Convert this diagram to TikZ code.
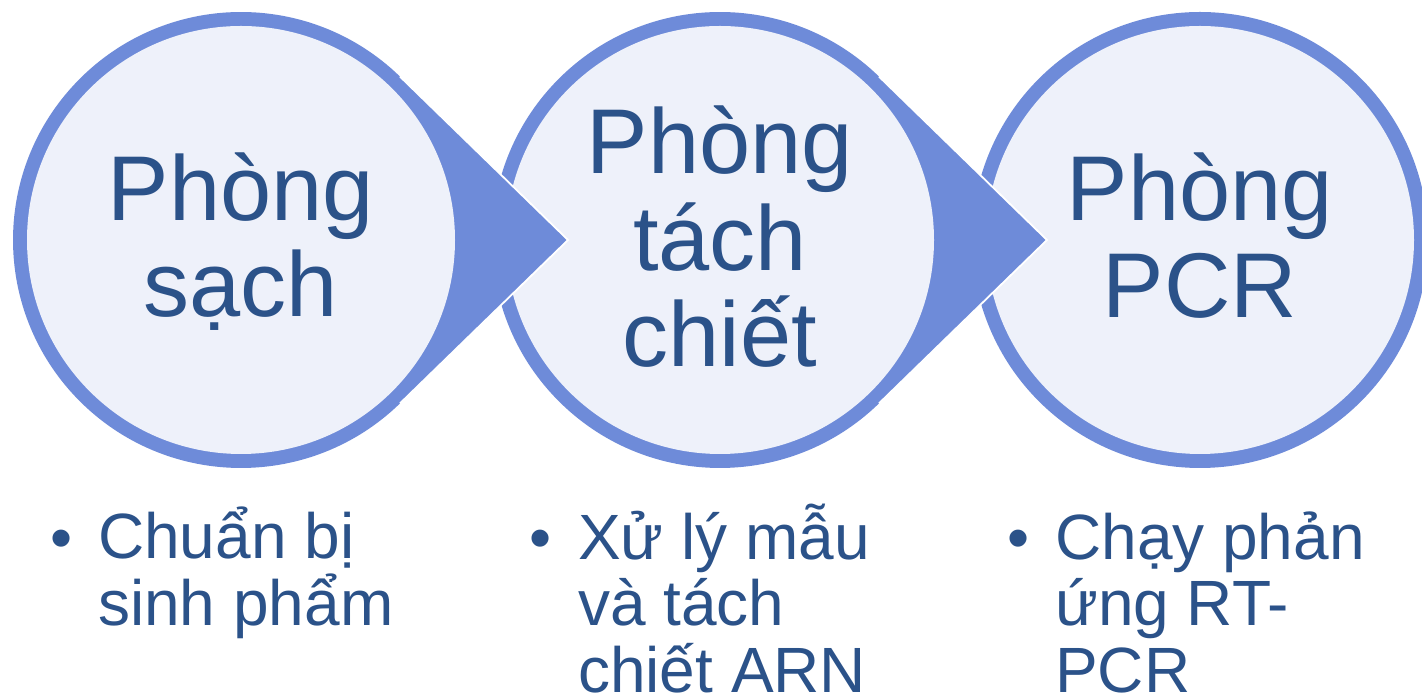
\documentclass[tikz,border=0pt]{standalone}
\usepackage{fontspec}
\setmainfont{Liberation Sans}
\usetikzlibrary{calc}
\definecolor{ringblue}{RGB}{110,139,217}
\definecolor{discfill}{RGB}{238,241,250}
\definecolor{txtblue}{RGB}{43,82,137}
\begin{document}
\begin{tikzpicture}[x=1pt,y=1pt,
  circtext/.style={inner sep=0pt, text=txtblue, align=center, font=\fontsize{92}{96.5}\selectfont, anchor=base},
  bultext/.style={inner sep=0pt, text=txtblue, align=left, font=\fontsize{64}{66.5}\selectfont, anchor=base west},
  bulletdot/.style={inner sep=0pt, text=txtblue, font=\fontsize{63}{66.5}\selectfont, anchor=base},
  tipedge/.style={draw=white, line width=1.8pt, line join=miter}]
\useasboundingbox (0,0) rectangle (1422,695);
\coordinate (c1) at (241,455);
\coordinate (c2) at (720,455);
\coordinate (c3) at (1200,455);
\coordinate (t1) at ($(c1)+(327,0)$);
\coordinate (t2) at ($(c2)+(327,0)$);
% third circle
\fill[ringblue] (c3) circle[radius=228];
\fill[discfill] (c3) circle[radius=214];
% second circle with pointer
\fill[ringblue] (t2) -- ($(c2)+(45.8:228)$) arc[start angle=45.8,end angle=314.2,radius=228] -- cycle;
\draw[tipedge] ($(c2)+(45.8:228)$) -- (t2) -- ($(c2)+(-45.8:228)$);
\fill[discfill] (c2) circle[radius=214];
% first circle with pointer
\fill[ringblue] (t1) -- ($(c1)+(45.8:228)$) arc[start angle=45.8,end angle=314.2,radius=228] -- cycle;
\draw[tipedge] ($(c1)+(45.8:228)$) -- (t1) -- ($(c1)+(-45.8:228)$);
\fill[discfill] (c1) circle[radius=214];
% circle texts (anchor = baseline of last line)
\node[circtext] (room1) at (241,378) {Phòng\\sạch};
\node[circtext] (room2) at (720,328.3) {Phòng\\tách\\chiết};
\node[circtext] (room3) at (1200,377.5) {Phòng\\PCR};
% bullet texts
\node[bulletdot] (b1) at (62,135.7) {•};
\node[bultext] (d1) at (98,69.5) {Chuẩn bị\\sinh phẩm};
\node[bulletdot] (b2) at (541,135.7) {•};
\node[bultext] (d2) at (578,2.7) {Xử lý mẫu\\và tách\\chiết ARN};
\node[bulletdot] (b3) at (1019,135.7) {•};
\node[bultext] (d3) at (1055,2.7) {Chạy phản\\ứng RT-\\PCR};
\end{tikzpicture}
\end{document}
